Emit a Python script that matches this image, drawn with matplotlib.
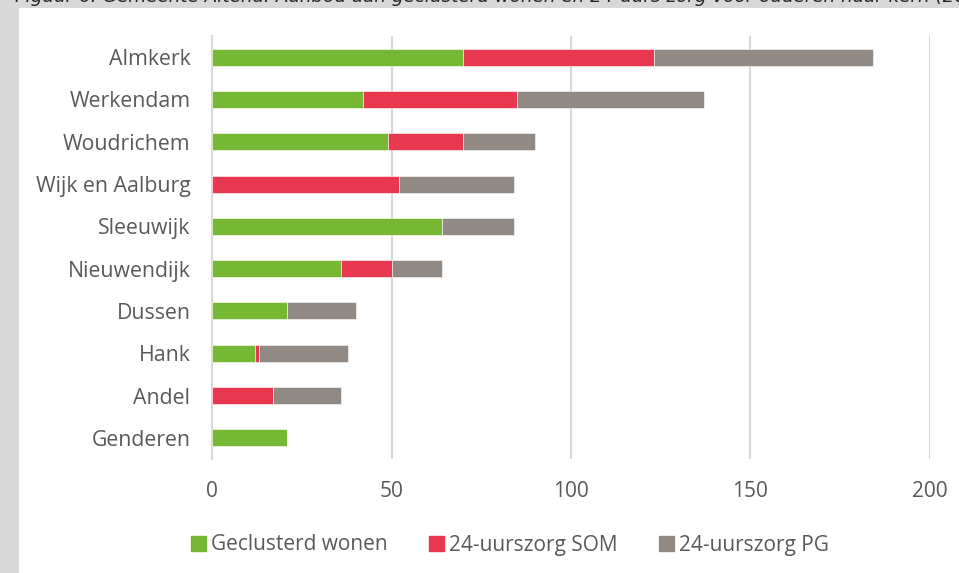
import matplotlib.pyplot as plt
import matplotlib.patches as mpatches
import numpy as np

# Data
kernen = ['Almkerk', 'Werkendam', 'Woudrichem', 'Wijk en Aalburg', 'Sleeuwijk',
          'Nieuwendijk', 'Dussen', 'Hank', 'Andel', 'Genderen']
geclusterd = [70, 42, 49, 0, 64, 36, 21, 12, 0, 21]
som = [53, 43, 21, 52, 0, 14, 0, 1, 17, 0]
pg = [61, 52, 20, 32, 20, 14, 19, 25, 19, 0]

series_names = ['Geclusterd wonen', '24-uurszorg SOM', '24-uurszorg PG']
colors = ['#76B733', '#E8384F', '#918A84']
text_color = '#595959'
border = '#D9D9D9'

plt.rcParams['font.family'] = ['Open Sans', 'DejaVu Sans']

fig = plt.figure(figsize=(9.59, 5.73), dpi=100, facecolor='white')
# grey page border on the left and top
fig.patches.append(mpatches.Rectangle((0, 0), 19 / 959, 1, transform=fig.transFigure,
                                      facecolor=border, edgecolor='none', zorder=-5))
fig.patches.append(mpatches.Rectangle((0, 1 - 8 / 573), 1, 8 / 573, transform=fig.transFigure,
                                      facecolor=border, edgecolor='none', zorder=-5))

# clipped caption above the chart
fig.text(15 / 959, 1 - 2.5 / 573,
         'Figuur 6: Gemeente Altena: Aanbod aan geclusterd wonen en 24-uurs zorg voor ouderen naar kern (2019)',
         fontsize=13.2, style='italic', color='#262626', va='baseline', ha='left',
         family=['DejaVu Sans'])

ax = fig.add_axes([212 / 959, 1 - 459 / 573, 718 / 959, 423 / 573], zorder=2)
ax.set_facecolor('white')

y = np.arange(len(kernen))
left = np.zeros(len(kernen))
for vals, name, col in zip([geclusterd, som, pg], series_names, colors):
    vals = np.array(vals)
    ax.barh(y, vals, left=left, height=0.4, color=col, label=name,
            edgecolor='white', linewidth=0.4, zorder=3)
    left += vals

ax.set_ylim(len(kernen) - 0.5, -0.5)
ax.set_xlim(0, 200)
ax.set_xticks([0, 50, 100, 150, 200])
ax.set_yticks(y)
ax.set_yticklabels(kernen)

ax.grid(axis='x', color=border, linewidth=1.5, zorder=0)
for s in ['top', 'right', 'bottom']:
    ax.spines[s].set_visible(False)
ax.spines['left'].set_color(border)
ax.spines['left'].set_linewidth(1.5)
ax.tick_params(axis='x', length=0, labelsize=15, colors=text_color, pad=16)
ax.tick_params(axis='y', length=0, labelsize=15.3, colors=text_color, pad=15.5)

handles = [mpatches.Patch(color=c) for c in colors]
fig.legend(handles, series_names, loc='center', bbox_to_anchor=(510 / 959, 1 - 545 / 573),
           ncol=3, frameon=False, fontsize=15, labelcolor=text_color,
           handlelength=0.7, handleheight=0.7, handletextpad=0.25, columnspacing=2.0)

fig.savefig('out.png', dpi=100, facecolor=fig.get_facecolor())
